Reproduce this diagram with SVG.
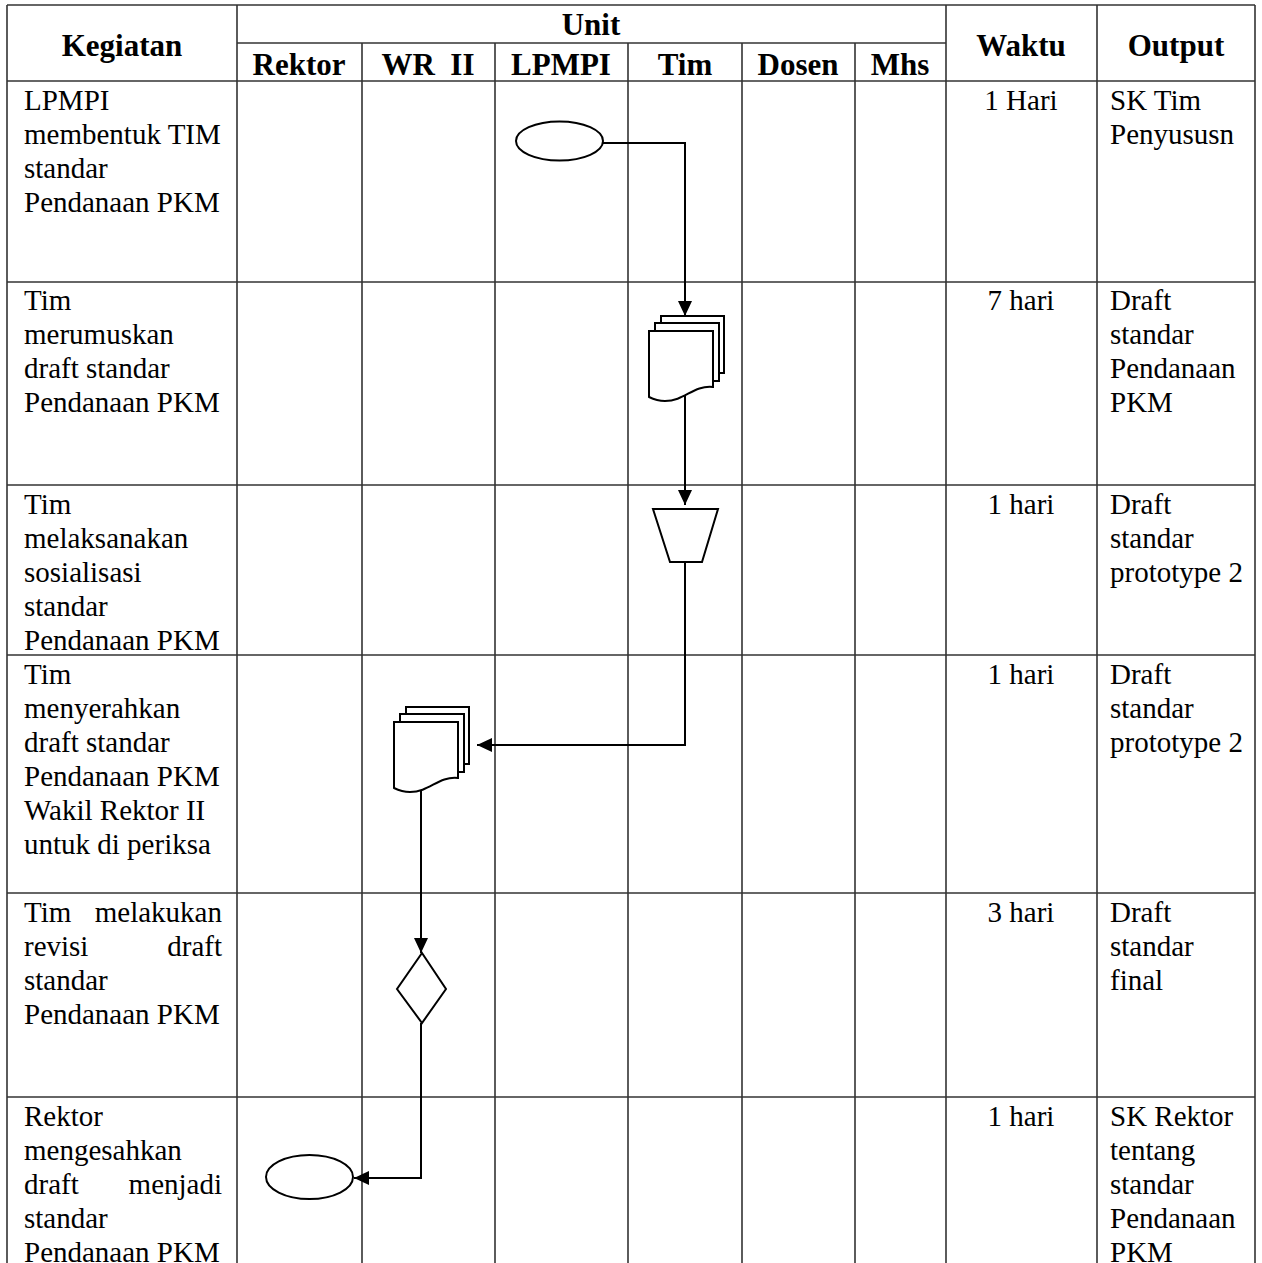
<svg xmlns="http://www.w3.org/2000/svg" xmlns:xlink="http://www.w3.org/1999/xlink" width="1262" height="1263" viewBox="0 0 1262 1263">
<style>
.grid{stroke:#333;stroke-width:1.6;fill:none}
.conn{stroke:#000;stroke-width:2;fill:none}
.shape{stroke:#000;stroke-width:2;fill:#fff}
.h{font-family:"Liberation Serif","Times New Roman",serif;font-weight:bold;font-size:31px;fill:#000;text-anchor:middle}
.t{font-family:"Liberation Serif","Times New Roman",serif;font-size:29px;fill:#000}
.c{text-anchor:middle}
.e{text-anchor:end}
</style>
<defs>
<marker id="arr" markerUnits="userSpaceOnUse" markerWidth="16" markerHeight="16" refX="15" refY="7" orient="auto">
<path d="M0,0 L15,7 L0,14 Z" fill="#000"/>
</marker>
<g id="multidoc">
<rect x="12" y="-15" width="63" height="57" class="shape"/>
<rect x="6" y="-8" width="64" height="58" class="shape"/>
<path d="M0,0 H64 V56 C44,54 36,70 16,70 C8,70 4,68 0,66 Z" class="shape"/>
</g>
</defs>
<rect width="1262" height="1263" fill="#fff"/>
<g id="table">
<line x1="7" y1="5" x2="1255" y2="5" class="grid"/>
<line x1="237" y1="43" x2="946" y2="43" class="grid"/>
<line x1="7" y1="81" x2="1255" y2="81" class="grid"/>
<line x1="7" y1="282" x2="1255" y2="282" class="grid"/>
<line x1="7" y1="485" x2="1255" y2="485" class="grid"/>
<line x1="7" y1="655" x2="1255" y2="655" class="grid"/>
<line x1="7" y1="893" x2="1255" y2="893" class="grid"/>
<line x1="7" y1="1097" x2="1255" y2="1097" class="grid"/>
<line x1="7" y1="5" x2="7" y2="1263" class="grid"/>
<line x1="237" y1="5" x2="237" y2="1263" class="grid"/>
<line x1="362" y1="43" x2="362" y2="1263" class="grid"/>
<line x1="495" y1="43" x2="495" y2="1263" class="grid"/>
<line x1="628" y1="43" x2="628" y2="1263" class="grid"/>
<line x1="742" y1="43" x2="742" y2="1263" class="grid"/>
<line x1="855" y1="43" x2="855" y2="1263" class="grid"/>
<line x1="946" y1="5" x2="946" y2="1263" class="grid"/>
<line x1="1097" y1="5" x2="1097" y2="1263" class="grid"/>
<line x1="1255" y1="5" x2="1255" y2="1263" class="grid"/>
</g>
<g id="header">
<text class="h" x="122" y="56">Kegiatan</text>
<text class="h" x="591" y="35">Unit</text>
<text class="h" x="299" y="75">Rektor</text>
<text class="h" x="428" y="75" xml:space="preserve">WR  II</text>
<text class="h" x="561" y="75">LPMPI</text>
<text class="h" x="685" y="75">Tim</text>
<text class="h" x="798" y="75">Dosen</text>
<text class="h" x="900" y="75">Mhs</text>
<text class="h" x="1021" y="56">Waktu</text>
<text class="h" x="1176" y="56">Output</text>
</g>
<g id="row1">
<text class="t" x="24" y="110">LPMPI</text>
<text class="t" x="24" y="144">membentuk TIM</text>
<text class="t" x="24" y="178">standar</text>
<text class="t" x="24" y="212">Pendanaan PKM</text>
<text class="t c" x="1021" y="110">1 Hari</text>
<text class="t" x="1110" y="110">SK Tim</text>
<text class="t" x="1110" y="144">Penyususn</text>
</g>
<g id="row2">
<text class="t" x="24" y="310">Tim</text>
<text class="t" x="24" y="344">merumuskan</text>
<text class="t" x="24" y="378">draft standar</text>
<text class="t" x="24" y="412">Pendanaan PKM</text>
<text class="t c" x="1021" y="310">7 hari</text>
<text class="t" x="1110" y="310">Draft</text>
<text class="t" x="1110" y="344">standar</text>
<text class="t" x="1110" y="378">Pendanaan</text>
<text class="t" x="1110" y="412">PKM</text>
</g>
<g id="row3">
<text class="t" x="24" y="514">Tim</text>
<text class="t" x="24" y="548">melaksanakan</text>
<text class="t" x="24" y="582">sosialisasi</text>
<text class="t" x="24" y="616">standar</text>
<text class="t" x="24" y="650">Pendanaan PKM</text>
<text class="t c" x="1021" y="514">1 hari</text>
<text class="t" x="1110" y="514">Draft</text>
<text class="t" x="1110" y="548">standar</text>
<text class="t" x="1110" y="582">prototype 2</text>
</g>
<g id="row4">
<text class="t" x="24" y="684">Tim</text>
<text class="t" x="24" y="718">menyerahkan</text>
<text class="t" x="24" y="752">draft standar</text>
<text class="t" x="24" y="786">Pendanaan PKM</text>
<text class="t" x="24" y="820">Wakil Rektor II</text>
<text class="t" x="24" y="854">untuk di periksa</text>
<text class="t c" x="1021" y="684">1 hari</text>
<text class="t" x="1110" y="684">Draft</text>
<text class="t" x="1110" y="718">standar</text>
<text class="t" x="1110" y="752">prototype 2</text>
</g>
<g id="row5">
<text class="t" x="24" y="922">Tim</text>
<text class="t e" x="222" y="922">melakukan</text>
<text class="t" x="24" y="956">revisi</text>
<text class="t e" x="222" y="956">draft</text>
<text class="t" x="24" y="990">standar</text>
<text class="t" x="24" y="1024">Pendanaan PKM</text>
<text class="t c" x="1021" y="922">3 hari</text>
<text class="t" x="1110" y="922">Draft</text>
<text class="t" x="1110" y="956">standar</text>
<text class="t" x="1110" y="990">final</text>
</g>
<g id="row6">
<text class="t" x="24" y="1126">Rektor</text>
<text class="t" x="24" y="1160">mengesahkan</text>
<text class="t" x="24" y="1194">draft</text>
<text class="t e" x="222" y="1194">menjadi</text>
<text class="t" x="24" y="1228">standar</text>
<text class="t" x="24" y="1262">Pendanaan PKM</text>
<text class="t c" x="1021" y="1126">1 hari</text>
<text class="t" x="1110" y="1126">SK Rektor</text>
<text class="t" x="1110" y="1160">tentang</text>
<text class="t" x="1110" y="1194">standar</text>
<text class="t" x="1110" y="1228">Pendanaan</text>
<text class="t" x="1110" y="1262">PKM</text>
</g>
<g id="connectors">
<path d="M603,143 H685 V316" class="conn" marker-end="url(#arr)"/>
<path d="M685,395 V505" class="conn" marker-end="url(#arr)"/>
<path d="M685,562 V745 H477" class="conn" marker-end="url(#arr)"/>
<path d="M421,790 V953" class="conn" marker-end="url(#arr)"/>
<path d="M421,1023 V1178 H354" class="conn" marker-end="url(#arr)"/>
</g>
<g id="start-lpmpi">
<ellipse cx="559.5" cy="141" rx="43.5" ry="19.5" class="shape"/>
</g>
<g id="doc-tim">
<use xlink:href="#multidoc" x="649" y="331"/>
</g>
<g id="manual-tim">
<path d="M653,509 H718 L702,562 H670 Z" class="shape"/>
</g>
<g id="doc-wr2">
<use xlink:href="#multidoc" x="394" y="722"/>
</g>
<g id="decision-wr2">
<path d="M422,953 L446,989 L422,1023 L397,989 Z" class="shape"/>
</g>
<g id="end-rektor">
<ellipse cx="309.5" cy="1177" rx="43.5" ry="22" class="shape"/>
</g>
</svg>
